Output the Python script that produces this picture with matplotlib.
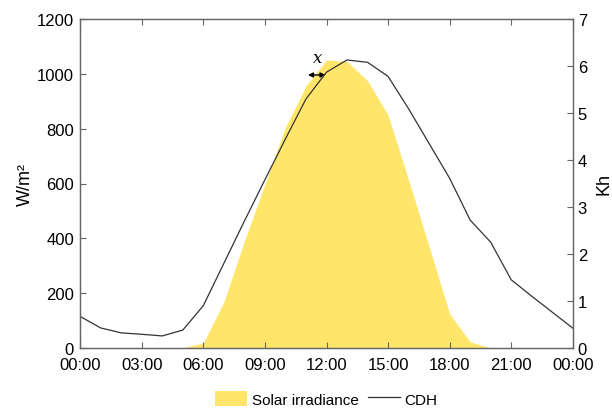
import matplotlib
matplotlib.use("Agg")
import matplotlib.pyplot as plt

plt.rcParams['font.family'] = ['Liberation Sans', 'DejaVu Sans']

# Hour of day (0-24) and hourly values
hours = list(range(25))
tick_hours = [0, 3, 6, 9, 12, 15, 18, 21, 24]
tick_labels = ["00:00", "03:00", "06:00", "09:00", "12:00", "15:00", "18:00", "21:00", "00:00"]

# Solar irradiance, W/m²
irradiance = [0, 0, 0, 0, 0, 0, 18, 167, 390, 597, 806, 956, 1051,
              1045, 975, 850, 612, 370, 124, 22, 0, 0, 0, 0, 0]

# Cooling degree hours, Kh
cdh = [0.67, 0.425, 0.32, 0.29, 0.255, 0.38, 0.90, 1.80, 2.70, 3.58, 4.45, 5.30, 5.87,
       6.13, 6.08, 5.78, 5.09, 4.35, 3.61, 2.72, 2.25, 1.45, 1.10, 0.76, 0.42]

yellow = '#FFE66A'
spine_col = '#666666'

fig = plt.figure(figsize=(6.12, 4.10), dpi=100)
ax = fig.add_axes([0.131, 0.149, 0.805, 0.802])
ax2 = ax.twinx()

ax.fill_between(hours, irradiance, 0, color=yellow, linewidth=0, label='Solar irradiance')
ax2.plot(hours, cdh, color='#333333', lw=0.9, label='CDH')

ax.set_xlim(0, 24)
ax.set_ylim(0, 1200)
ax2.set_ylim(0, 7)
ax.set_xticks(tick_hours)
ax.set_xticklabels(tick_labels)
ax.set_yticks(range(0, 1201, 200))
ax2.set_yticks(range(0, 8))

ax.set_ylabel('W/m²', fontsize=13, labelpad=2)
ax2.set_ylabel('Kh', fontsize=13, labelpad=6)

for a in (ax, ax2):
    for s in a.spines.values():
        s.set_color(spine_col)
        s.set_linewidth(0.9)
ax.tick_params(axis='both', direction='in', length=4, color=spine_col,
               labelsize=12, top=True)
ax.tick_params(axis='x', pad=6.5)
ax.tick_params(axis='y', pad=4.5)
ax2.tick_params(axis='y', direction='in', length=4, color=spine_col,
                labelsize=12, pad=3.5)

# Lag between irradiance and CDH
ax.annotate('', xy=(11.1, 996), xytext=(11.95, 996),
            arrowprops=dict(arrowstyle='<|-|>', color='black', lw=1.0,
                            mutation_scale=7, shrinkA=0, shrinkB=0))
ax.text(11.55, 1030, 'x', fontsize=12, style='italic',
        family=['DejaVu Serif'], ha='center', va='bottom')

h1, l1 = ax.get_legend_handles_labels()
h2, l2 = ax2.get_legend_handles_labels()
fig.legend(h1 + h2, l1 + l2, loc='center', bbox_to_anchor=(0.533, 0.025),
           ncol=2, frameon=False, fontsize=11, handlelength=2.1,
           handletextpad=0.3, columnspacing=0.6, handleheight=1.1)

fig.savefig('out.png', dpi=100)
